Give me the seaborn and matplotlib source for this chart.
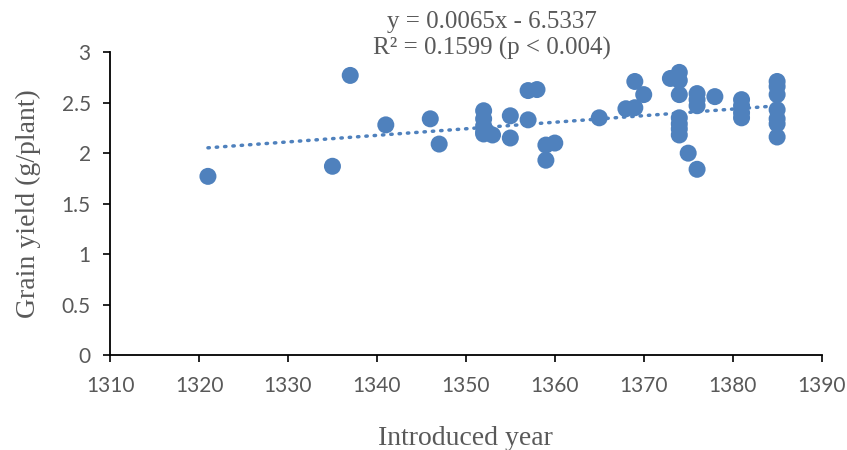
import matplotlib
matplotlib.use('Agg')
import matplotlib.pyplot as plt
import seaborn as sns
import pandas as pd

# introduced year of each cultivar and its grain yield (g/plant)
years = [1321, 1335, 1337, 1341, 1346, 1347,
         1352, 1352, 1352, 1352, 1352, 1353,
         1355, 1355, 1357, 1357, 1358, 1359, 1359, 1360,
         1365, 1368, 1369, 1369, 1370, 1373,
         1374, 1374, 1374, 1374, 1374, 1374, 1374, 1375,
         1376, 1376, 1376, 1376, 1378,
         1381, 1381, 1381, 1381,
         1385, 1385, 1385, 1385, 1385, 1385, 1385]
grain_yield = [1.77, 1.87, 2.77, 2.28, 2.34, 2.09,
               2.42, 2.34, 2.27, 2.21, 2.19, 2.18,
               2.37, 2.15, 2.62, 2.33, 2.63, 2.08, 1.93, 2.10,
               2.35, 2.44, 2.71, 2.45, 2.58, 2.74,
               2.80, 2.72, 2.58, 2.35, 2.29, 2.24, 2.18, 2.00,
               2.59, 2.53, 2.47, 1.84, 2.56,
               2.53, 2.47, 2.40, 2.35,
               2.71, 2.66, 2.58, 2.43, 2.34, 2.29, 2.16]

# linear trendline shown on the chart
slope = 0.0065
intercept = -6.5337
eq_label = 'y = 0.0065x - 6.5337\nR² = 0.1599 (p < 0.004)'

x_ticks = [1310, 1320, 1330, 1340, 1350, 1360, 1370, 1380, 1390]
y_ticks = [0, 0.5, 1, 1.5, 2, 2.5, 3]
y_tick_labels = ['0', '0.5', '1', '1.5', '2', '2.5', '3']

blue = '#4F81BD'
gray = '#595959'

sns.set_theme(style='white')
plt.rcParams['font.family'] = ['Liberation Serif', 'DejaVu Sans']

df = pd.DataFrame({'year': years, 'yield': grain_yield})
trend = pd.DataFrame({'year': [min(years), max(years)]})
trend['yield'] = slope * trend['year'] + intercept

fig = plt.figure(figsize=(8.47, 4.5), dpi=100)
ax = fig.add_axes([0.130, 0.211, 0.840, 0.673])

sns.scatterplot(data=df, x='year', y='yield', ax=ax, color=blue, s=150,
                edgecolor='none', zorder=3)
sns.lineplot(data=trend, x='year', y='yield', ax=ax, color=blue,
             linewidth=2.5, dashes=False, zorder=4)
line = ax.get_lines()[-1]
line.set_dashes((0.4, 2.0))
line.set_dash_capstyle('round')

ax.set_xlim(1310, 1390)
ax.set_ylim(0, 3)
ax.set_xticks(x_ticks)
ax.set_yticks(y_ticks)
ax.set_yticklabels(y_tick_labels)

for sp in ['top', 'right']:
    ax.spines[sp].set_visible(False)
for sp in ['left', 'bottom']:
    ax.spines[sp].set_color('black')
    ax.spines[sp].set_linewidth(1.3)

ax.tick_params(axis='both', which='major', direction='out', length=5,
               width=1.2, color='black', labelcolor=gray, labelsize=15,
               bottom=True, left=True)
ax.tick_params(axis='x', pad=10)
ax.tick_params(axis='y', pad=9)
for lab in ax.get_xticklabels() + ax.get_yticklabels():
    lab.set_family(['Lato', 'DejaVu Sans'])

ax.set_xlabel('Introduced year', fontsize=20, color=gray, labelpad=22)
ax.set_ylabel('Grain yield (g/plant)', fontsize=20, color=gray, labelpad=15)

fig.text(0.581, 0.975, eq_label, ha='center', va='top', fontsize=18,
         color=gray, linespacing=1.2)

fig.savefig('out.png', dpi=100)
